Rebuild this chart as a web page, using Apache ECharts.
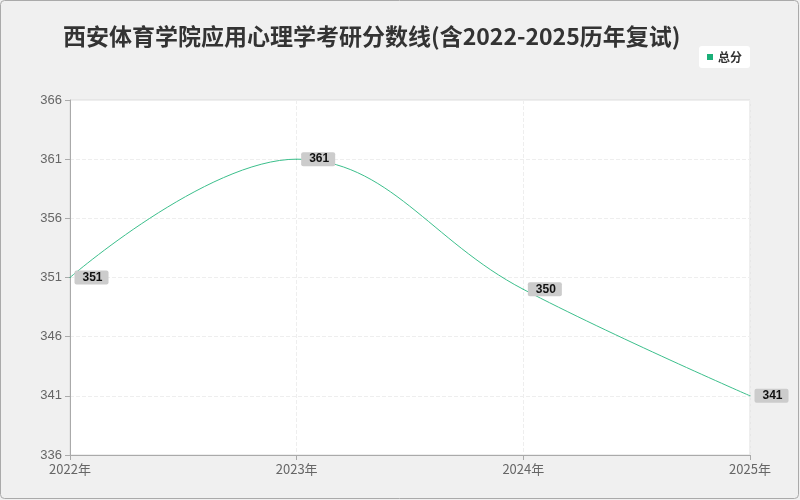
<!DOCTYPE html><html><head><meta charset="utf-8"><script src="https://cdn.jsdelivr.net/npm/echarts@6/dist/echarts.min.js"></script>
<style>body{margin:0}#c{width:800px;height:500px}</style></head><body><div id="c"></div><script>
const categories=['2022年','2023年','2024年','2025年'];
const totalScores=[351,361,350,341];
const yTicks={min:336,max:366,interval:5};
const chart=echarts.init(document.getElementById('c'));
chart.setOption({
 backgroundColor:'#f0f0f0',
 graphic:[{type:'rect',shape:{x:0.5,y:0.5,width:798,height:498,r:4},style:{fill:'none',stroke:'#aaa'}}],
 title:{text:'西安体育学院应用心理学考研分数线(含2022-2025历年复试)',left:58,top:20,textStyle:{fontFamily:'Noto Sans CJK SC',fontSize:23,fontWeight:'bold',color:'#333'}},
 legend:{right:50,top:46,backgroundColor:'#fff',borderRadius:3,padding:[5,8],itemWidth:6,itemHeight:6,icon:'rect',textStyle:{fontFamily:'Noto Sans CJK SC',fontSize:12,fontWeight:'bold',color:'#333'},data:['总分']},
 grid:{left:70,right:50,top:100,bottom:45,show:true,backgroundColor:'#fff',borderColor:'#ddd'},
 xAxis:{type:'category',data:categories,boundaryGap:false,axisLine:{lineStyle:{color:'#aaa'}},axisTick:{show:true,lineStyle:{color:'#aaa'}},axisLabel:{color:'#666',fontSize:13,fontFamily:'Noto Sans CJK SC'},splitLine:{show:true,lineStyle:{type:'dashed',color:'#eee'}}},
 yAxis:{type:'value',min:yTicks.min,max:yTicks.max,interval:yTicks.interval,axisLine:{show:true,lineStyle:{color:'#aaa'}},axisTick:{show:true,lineStyle:{color:'#aaa'}},axisLabel:{color:'#666',fontSize:13},splitLine:{lineStyle:{type:'dashed',color:'#eee'}}},
 series:[{name:'总分',type:'line',smooth:0.4,data:totalScores,symbol:'circle',symbolSize:1,showSymbol:true,itemStyle:{color:'#1aaf78'},lineStyle:{width:1,color:'#3cbf8c'},
  label:{show:true,position:'right',distance:4,color:'#111',fontWeight:'bold',fontSize:12,backgroundColor:'#ccc',padding:[1,6,1,8],borderRadius:2}}]
});
</script></body></html>
